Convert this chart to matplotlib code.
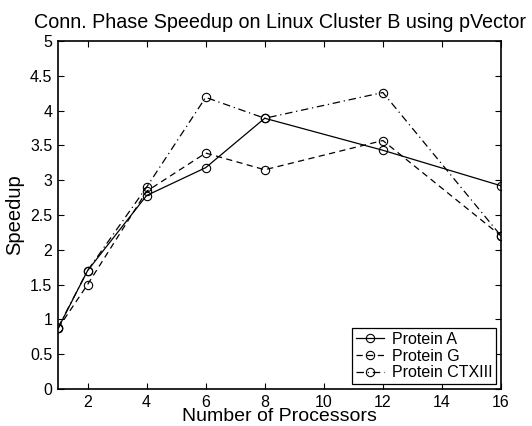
import numpy as np
import matplotlib
matplotlib.use("Agg")
import matplotlib.pyplot as plt

plt.rcParams['font.family'] = ['Liberation Sans', 'DejaVu Sans']

procs = [1, 2, 4, 6, 8, 12, 16]
protein_a = [0.87, 1.70, 2.78, 3.18, 3.89, 3.43, 2.92]
protein_g = [0.87, 1.50, 2.84, 3.39, 3.15, 3.57, 2.20]
protein_ctx = [0.88, 1.70, 2.90, 4.19, 3.89, 4.26, 2.20]

fig = plt.figure(figsize=(5.32, 4.26), dpi=100)
ax = fig.add_axes([58/532, 37/426, 443/532, 348/426])

mk = dict(marker='o', markersize=6, markerfacecolor='none', markeredgecolor='k',
          markeredgewidth=0.8, color='k', linewidth=0.9)
ax.plot(procs, protein_a, linestyle='-', label='Protein A', **mk)
ax.plot(procs, protein_g, linestyle=(0, (5, 3.5)), label='Protein G', **mk)
ax.plot(procs, protein_ctx, linestyle=(0, (6, 3, 1, 3)), label='Protein CTXIII', **mk)

ax.set_xlim(1, 16)
ax.set_ylim(0, 5)
ax.set_xticks(np.arange(2, 17, 2))
ax.set_yticks(np.arange(0, 5.01, 0.5))
ax.set_yticklabels(['0', '0.5', '1', '1.5', '2', '2.5', '3', '3.5', '4', '4.5', '5'])
ax.tick_params(direction='in', top=True, right=True, labelsize=11.5, length=4, width=0.8, pad=4)
for s in ax.spines.values():
    s.set_linewidth(1.2)

ax.set_xlabel('Number of Processors', fontsize=14, labelpad=-1)
ax.set_ylabel('Speedup', fontsize=14.5, labelpad=4)
ax.set_title('Conn. Phase Speedup on Linux Cluster B using pVector', fontsize=14.2, pad=9.5)

leg = ax.legend(loc='lower right', fontsize=11.5, handlelength=1.7, handletextpad=0.5,
                borderpad=0.25, labelspacing=0.1, fancybox=False, framealpha=1,
                borderaxespad=0.3)
leg.get_frame().set_edgecolor('k')
leg.get_frame().set_linewidth(0.9)

fig.savefig('out.png', dpi=100)
